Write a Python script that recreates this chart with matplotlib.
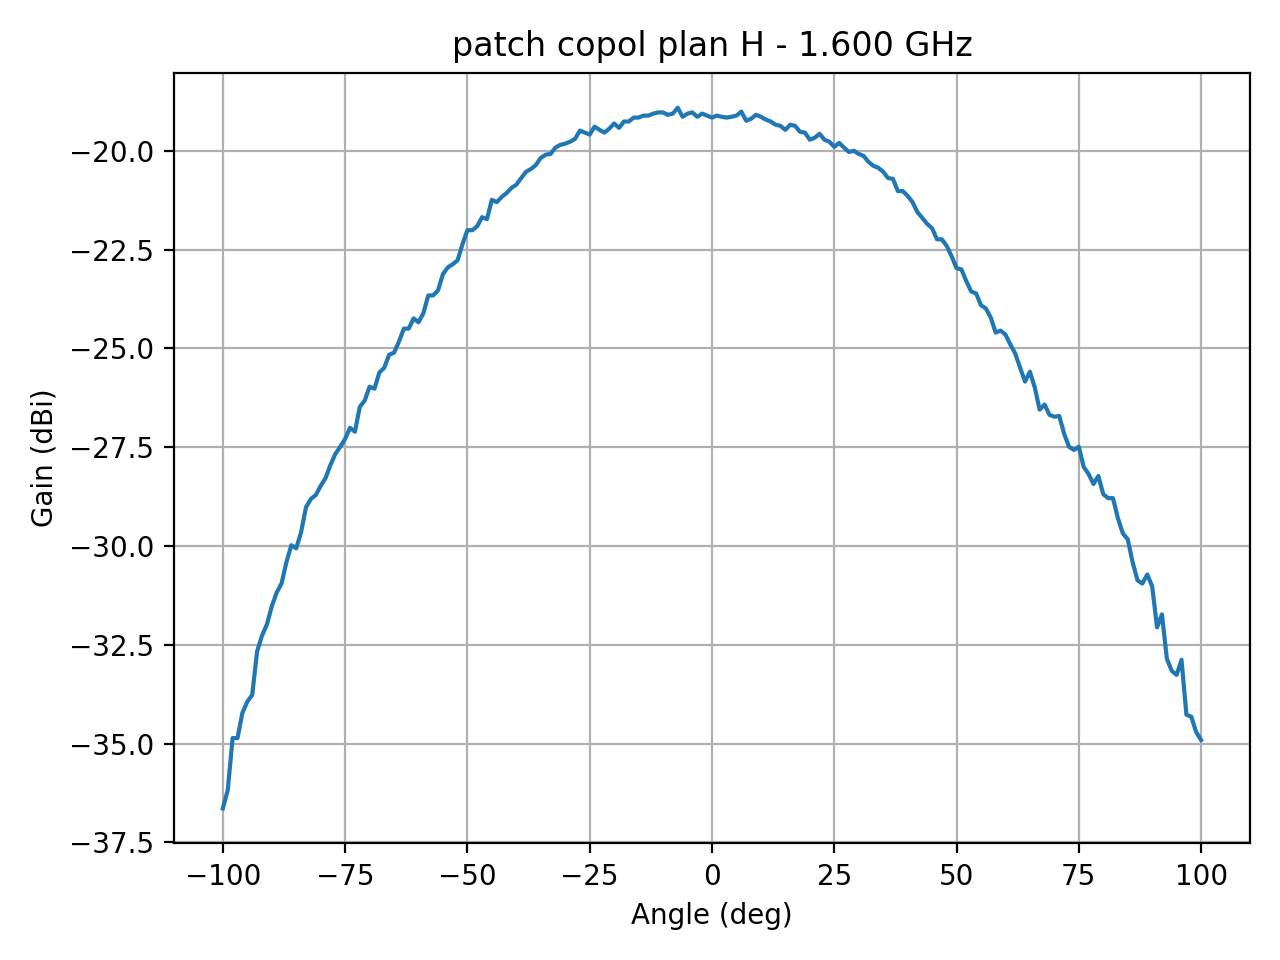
import matplotlib
matplotlib.use('Agg')
import matplotlib.pyplot as plt
import numpy as np

# angles in degrees, 1 deg step
angle = np.arange(-100, 101, 1)

gain = [
    -36.64, -36.18, -34.86, -34.86, -34.22, -33.94, -33.77, -32.67, -32.27, -31.99,
    -31.53, -31.18, -30.95, -30.41, -29.98, -30.06, -29.65, -29.02, -28.81, -28.71,
    -28.48, -28.28, -27.95, -27.67, -27.49, -27.29, -27.01, -27.11, -26.48, -26.32,
    -25.97, -26.02, -25.61, -25.49, -25.16, -25.11, -24.83, -24.50, -24.50, -24.24,
    -24.34, -24.11, -23.66, -23.66, -23.53, -23.12, -22.95, -22.87, -22.77, -22.36,
    -22.01, -22.01, -21.91, -21.68, -21.73, -21.24, -21.30, -21.17, -21.07, -20.94,
    -20.86, -20.69, -20.53, -20.46, -20.36, -20.18, -20.10, -20.08, -19.92, -19.85,
    -19.82, -19.77, -19.70, -19.49, -19.54, -19.59, -19.39, -19.47, -19.54, -19.44,
    -19.31, -19.42, -19.26, -19.26, -19.16, -19.16, -19.11, -19.11, -19.06, -19.03,
    -19.03, -19.09, -19.06, -18.91, -19.14, -19.06, -19.03, -19.14, -19.06, -19.11,
    -19.16,
    -19.11, -19.14, -19.16, -19.14, -19.11, -19.01, -19.24, -19.19, -19.09, -19.14,
    -19.21, -19.26, -19.34, -19.37, -19.47, -19.34, -19.37, -19.52, -19.54, -19.72,
    -19.67, -19.57, -19.72, -19.77, -19.90, -19.80, -19.92, -20.03, -20.00, -20.08,
    -20.13, -20.28, -20.38, -20.43, -20.53, -20.69, -20.71, -21.02, -21.02, -21.14,
    -21.30, -21.55, -21.70, -21.85, -21.96, -22.24, -22.24, -22.41, -22.67, -22.97,
    -23.00, -23.30, -23.56, -23.61, -23.91, -23.99, -24.22, -24.60, -24.55, -24.65,
    -24.90, -25.13, -25.49, -25.84, -25.59, -25.99, -26.55, -26.42, -26.68, -26.73,
    -26.71, -27.16, -27.49, -27.57, -27.49, -28.00, -28.18, -28.43, -28.23, -28.69,
    -28.79, -28.79, -29.30, -29.68, -29.83, -30.41, -30.87, -30.95, -30.72, -31.02,
    -32.06, -31.73, -32.85, -33.16, -33.26, -32.88, -34.27, -34.32, -34.71, -34.91,
]

fig, ax = plt.subplots(figsize=(6.4, 4.8), dpi=200)
ax.plot(angle, gain)
ax.set_xlabel('Angle (deg)')
ax.set_ylabel('Gain (dBi)')
ax.set_title('patch copol plan H - 1.600 GHz')
ax.grid(True)
fig.tight_layout()
fig.savefig('out.png')
